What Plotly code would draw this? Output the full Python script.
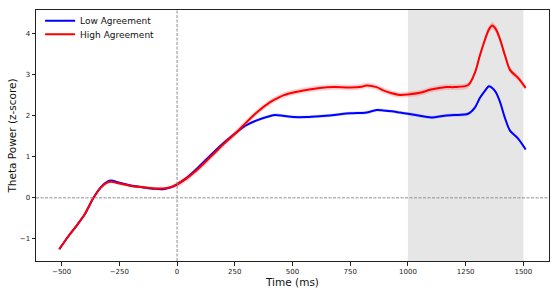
import plotly.graph_objects as go

time_ms = [-510, -470, -430, -400, -362, -330, -300, -286, -250, -200, -150, -100, -60, -30,
           0, 40, 80, 120, 160, 200, 258, 300, 345, 400, 424, 460, 504, 560, 619, 680, 749,
           800, 821, 864, 893, 930, 965, 1000, 1052, 1100, 1167, 1200, 1261, 1290, 1312,
           1335, 1350, 1365, 1380, 1398, 1420, 1442, 1478, 1510]

low_mean = [-1.25, -0.93, -0.64, -0.40, 0.00, 0.26, 0.40, 0.42, 0.37, 0.30, 0.26, 0.22, 0.21, 0.25,
            0.33, 0.48, 0.68, 0.90, 1.12, 1.33, 1.60, 1.77, 1.89, 1.99, 2.02, 2.00, 1.97, 1.97, 1.99, 2.02, 2.06,
            2.07, 2.08, 2.14, 2.13, 2.11, 2.08, 2.05, 2.00, 1.96, 2.01, 2.02, 2.05, 2.20, 2.44,
            2.62, 2.72, 2.68, 2.58, 2.35, 1.95, 1.64, 1.44, 1.18]

high_mean = [-1.25, -0.93, -0.64, -0.40, 0.00, 0.25, 0.38, 0.39, 0.35, 0.29, 0.26, 0.23, 0.23, 0.26,
             0.33, 0.47, 0.65, 0.86, 1.08, 1.30, 1.60, 1.84, 2.08, 2.32, 2.40, 2.50, 2.57, 2.63, 2.68, 2.70, 2.69,
             2.71, 2.74, 2.70, 2.62, 2.55, 2.51, 2.52, 2.56, 2.64, 2.70, 2.70, 2.75, 3.05, 3.48,
             3.88, 4.10, 4.20, 4.12, 3.88, 3.48, 3.12, 2.92, 2.68]

low_sem = [0.03] * 14 + [0.04] * 40
high_sem = [0.03] * 14 + [0.07] * 31 + [0.09] * 5 + [0.07] * 4

x_ticks = [-500, -250, 0, 250, 500, 750, 1000, 1250, 1500]
y_ticks = [-1, 0, 1, 2, 3, 4]
shade_window = [1000, 1500]

FONT = "DejaVu Sans"

fig = go.Figure()

def add_series(mean, sem, color, band, name, legend):
    upper = [m + s for m, s in zip(mean, sem)]
    lower = [m - s for m, s in zip(mean, sem)]
    fig.add_trace(go.Scatter(x=time_ms, y=upper, mode="lines", line=dict(width=0, shape="spline"),
                             showlegend=False, hoverinfo="skip"))
    fig.add_trace(go.Scatter(x=time_ms, y=lower, mode="lines", line=dict(width=0, shape="spline"),
                             fill="tonexty", fillcolor=band, showlegend=False, hoverinfo="skip"))
    fig.add_trace(go.Scatter(x=time_ms, y=mean, mode="lines", name=name, legend=legend,
                             line=dict(color=color, width=2, shape="spline", smoothing=0.8)))

add_series(low_mean, low_sem, "#0000ff", "rgba(0,0,255,0.15)", "Low Agreement", "legend")
add_series(high_mean, high_sem, "#ff0000", "rgba(255,0,0,0.17)", "High Agreement", "legend2")

fig.add_vrect(x0=shade_window[0], x1=shade_window[1], fillcolor="rgba(128,128,128,0.2)",
              line_width=0, layer="below")
fig.add_vline(x=0, line=dict(color="#8c8c8c", width=1, dash="3px,1.5px"))
fig.add_hline(y=0, line=dict(color="#8c8c8c", width=1, dash="3px,1.5px"))

axis_common = dict(showline=True, mirror=True, linecolor="#222222", linewidth=1,
                   ticks="outside", ticklen=3.5, tickwidth=0.8, tickcolor="#222222",
                   showgrid=False, zeroline=False, automargin=False,
                   tickfont=dict(family=FONT, size=7, color="#222222"))

fig.update_xaxes(range=[-611, 1611], tickvals=x_ticks,
                 title=dict(text="Time (ms)", font=dict(family=FONT, size=10.5, color="#111111"), standoff=2),
                 **axis_common)
fig.update_yaxes(range=[-1.54, 4.58], tickvals=y_ticks,
                 title=dict(text="Theta Power (z-score)", font=dict(family=FONT, size=10.5, color="#111111"), standoff=1),
                 **axis_common)

legend_style = dict(xanchor="left", yanchor="middle", bgcolor="rgba(255,255,255,0)",
                    font=dict(family=FONT, size=9, color="#111111"), itemwidth=30)

fig.update_layout(
    width=555, height=293,
    margin=dict(l=36, r=6, t=6, b=32),
    plot_bgcolor="white", paper_bgcolor="white",
    font=dict(family=FONT),
    legend=dict(x=0.008, y=(255 - 10.8) / 255, **legend_style),
    legend2=dict(x=0.008, y=(255 - 24.6) / 255, **legend_style),
)

fig.write_html("out.html", post_script="document.body.style.margin='0';",
               config={"displayModeBar": False})
